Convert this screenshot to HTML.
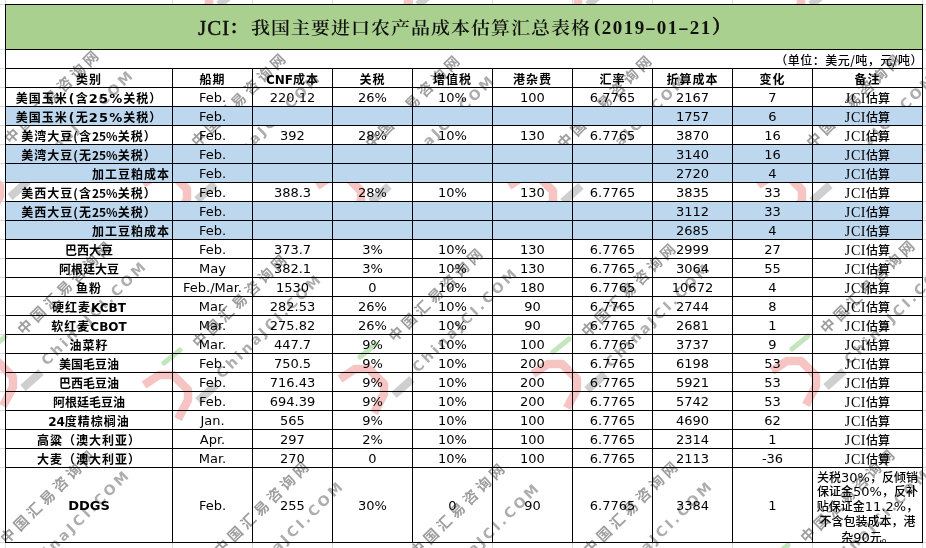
<!DOCTYPE html><html><head><meta charset="utf-8"><title>JCI</title><style>

*{margin:0;padding:0;box-sizing:border-box}
html,body{width:926px;height:548px;overflow:hidden;background:#fff}
body{position:relative;font-family:"DejaVu Sans","Noto Sans CJK SC",sans-serif;font-size:13px;color:#000}
.c{font-family:"Noto Sans CJK SC",sans-serif;font-size:12px;font-weight:500;color:#000}
.a{position:absolute}
.h{position:absolute;height:1px;background:#000}
.v{position:absolute;width:1px;background:#000}
.g{position:absolute;background:#dadada}
.t{position:absolute;height:19px;line-height:19px;white-space:nowrap;text-align:center}
.nb{font-family:"Noto Sans CJK SC",sans-serif;font-size:12px;font-weight:bold;letter-spacing:1px;color:#000}
.n0{letter-spacing:0}
.nr{font-family:"Noto Sans CJK SC",sans-serif;font-size:12px;font-weight:700;color:#000}
.vb{font-family:"DejaVu Sans",sans-serif;font-weight:bold;font-size:13px;letter-spacing:1.2px}
.wm{position:absolute;width:0;height:0;transform:rotate(-44.5deg);transform-origin:0 0}
.wc{position:absolute;left:-6.5px;top:-7px;white-space:nowrap;font-family:"Noto Sans CJK SC",sans-serif;font-size:14.5px;line-height:14.5px;letter-spacing:3.9px;font-weight:bold;color:#9e9e9e}
.we{position:absolute;left:-11.1px;top:31.5px;white-space:nowrap;font-family:"DejaVu Sans",sans-serif;font-weight:bold;font-size:14px;line-height:14px;letter-spacing:3px;color:#adadad}
.lg{position:absolute;width:0;height:0;overflow:visible}
.lb{font-family:"DejaVu Sans",sans-serif;font-weight:bold;letter-spacing:0}
.p{font-family:"DejaVu Sans",sans-serif;font-weight:bold;letter-spacing:0;margin:0 1.5px 0 1px}
.hd{font-family:"Noto Sans CJK SC",sans-serif;font-size:12px;font-weight:bold;letter-spacing:1px;color:#000}
.rm{font-family:"Liberation Serif","Noto Sans CJK SC",serif;font-size:14px;letter-spacing:0.6px;color:#000}
.rm .c{letter-spacing:0}
.title{position:absolute;top:5px;height:44px;line-height:44px;white-space:nowrap;
 font-family:"Liberation Serif","Noto Serif CJK SC",serif;font-weight:bold;font-size:19px;color:#111}
.unit{position:absolute;right:3px;top:50px;height:19px;line-height:19px;font-family:"Noto Sans CJK SC",sans-serif;font-size:12px;font-weight:500;color:#000;white-space:nowrap;letter-spacing:0.5px}

</style></head><body>
<div class="g" style="left:5px;top:0;width:1px;height:4px"></div>
<div class="g" style="left:5px;top:543px;width:1px;height:5px"></div>
<div class="g" style="left:172px;top:0;width:1px;height:4px"></div>
<div class="g" style="left:172px;top:543px;width:1px;height:5px"></div>
<div class="g" style="left:252px;top:0;width:1px;height:4px"></div>
<div class="g" style="left:252px;top:543px;width:1px;height:5px"></div>
<div class="g" style="left:332px;top:0;width:1px;height:4px"></div>
<div class="g" style="left:332px;top:543px;width:1px;height:5px"></div>
<div class="g" style="left:412px;top:0;width:1px;height:4px"></div>
<div class="g" style="left:412px;top:543px;width:1px;height:5px"></div>
<div class="g" style="left:492px;top:0;width:1px;height:4px"></div>
<div class="g" style="left:492px;top:543px;width:1px;height:5px"></div>
<div class="g" style="left:572px;top:0;width:1px;height:4px"></div>
<div class="g" style="left:572px;top:543px;width:1px;height:5px"></div>
<div class="g" style="left:652px;top:0;width:1px;height:4px"></div>
<div class="g" style="left:652px;top:543px;width:1px;height:5px"></div>
<div class="g" style="left:732px;top:0;width:1px;height:4px"></div>
<div class="g" style="left:732px;top:543px;width:1px;height:5px"></div>
<div class="g" style="left:812px;top:0;width:1px;height:4px"></div>
<div class="g" style="left:812px;top:543px;width:1px;height:5px"></div>
<div class="g" style="left:922px;top:0;width:1px;height:4px"></div>
<div class="g" style="left:922px;top:543px;width:1px;height:5px"></div>
<div class="g" style="left:0;top:4px;width:5px;height:1px"></div>
<div class="g" style="left:923px;top:4px;width:3px;height:1px"></div>
<div class="g" style="left:0;top:49px;width:5px;height:1px"></div>
<div class="g" style="left:923px;top:49px;width:3px;height:1px"></div>
<div class="g" style="left:0;top:68px;width:5px;height:1px"></div>
<div class="g" style="left:923px;top:68px;width:3px;height:1px"></div>
<div class="g" style="left:0;top:87px;width:5px;height:1px"></div>
<div class="g" style="left:923px;top:87px;width:3px;height:1px"></div>
<div class="g" style="left:0;top:106px;width:5px;height:1px"></div>
<div class="g" style="left:923px;top:106px;width:3px;height:1px"></div>
<div class="g" style="left:0;top:125px;width:5px;height:1px"></div>
<div class="g" style="left:923px;top:125px;width:3px;height:1px"></div>
<div class="g" style="left:0;top:144px;width:5px;height:1px"></div>
<div class="g" style="left:923px;top:144px;width:3px;height:1px"></div>
<div class="g" style="left:0;top:163px;width:5px;height:1px"></div>
<div class="g" style="left:923px;top:163px;width:3px;height:1px"></div>
<div class="g" style="left:0;top:182px;width:5px;height:1px"></div>
<div class="g" style="left:923px;top:182px;width:3px;height:1px"></div>
<div class="g" style="left:0;top:201px;width:5px;height:1px"></div>
<div class="g" style="left:923px;top:201px;width:3px;height:1px"></div>
<div class="g" style="left:0;top:220px;width:5px;height:1px"></div>
<div class="g" style="left:923px;top:220px;width:3px;height:1px"></div>
<div class="g" style="left:0;top:239px;width:5px;height:1px"></div>
<div class="g" style="left:923px;top:239px;width:3px;height:1px"></div>
<div class="g" style="left:0;top:258px;width:5px;height:1px"></div>
<div class="g" style="left:923px;top:258px;width:3px;height:1px"></div>
<div class="g" style="left:0;top:277px;width:5px;height:1px"></div>
<div class="g" style="left:923px;top:277px;width:3px;height:1px"></div>
<div class="g" style="left:0;top:296px;width:5px;height:1px"></div>
<div class="g" style="left:923px;top:296px;width:3px;height:1px"></div>
<div class="g" style="left:0;top:315px;width:5px;height:1px"></div>
<div class="g" style="left:923px;top:315px;width:3px;height:1px"></div>
<div class="g" style="left:0;top:334px;width:5px;height:1px"></div>
<div class="g" style="left:923px;top:334px;width:3px;height:1px"></div>
<div class="g" style="left:0;top:353px;width:5px;height:1px"></div>
<div class="g" style="left:923px;top:353px;width:3px;height:1px"></div>
<div class="g" style="left:0;top:372px;width:5px;height:1px"></div>
<div class="g" style="left:923px;top:372px;width:3px;height:1px"></div>
<div class="g" style="left:0;top:391px;width:5px;height:1px"></div>
<div class="g" style="left:923px;top:391px;width:3px;height:1px"></div>
<div class="g" style="left:0;top:410px;width:5px;height:1px"></div>
<div class="g" style="left:923px;top:410px;width:3px;height:1px"></div>
<div class="g" style="left:0;top:429px;width:5px;height:1px"></div>
<div class="g" style="left:923px;top:429px;width:3px;height:1px"></div>
<div class="g" style="left:0;top:448px;width:5px;height:1px"></div>
<div class="g" style="left:923px;top:448px;width:3px;height:1px"></div>
<div class="g" style="left:0;top:467px;width:5px;height:1px"></div>
<div class="g" style="left:923px;top:467px;width:3px;height:1px"></div>
<div class="g" style="left:0;top:542px;width:5px;height:1px"></div>
<div class="g" style="left:923px;top:542px;width:3px;height:1px"></div>
<div class="wm" style="left:11px;top:136px"><div class="wc">中国汇易咨询网</div><div class="we">ChinaJCI.COM</div></div>
<div class="wm" style="left:198px;top:138.5px"><div class="wc">中国汇易咨询网</div><div class="we">ChinaJCI.COM</div></div>
<div class="wm" style="left:371.5px;top:140.5px"><div class="wc">中国汇易咨询网</div><div class="we">ChinaJCI.COM</div></div>
<div class="wm" style="left:563.5px;top:140.5px"><div class="wc">中国汇易咨询网</div><div class="we">ChinaJCI.COM</div></div>
<div class="wm" style="left:813px;top:140px"><div class="wc">中国汇易咨询网</div><div class="we">ChinaJCI.COM</div></div>
<div class="wm" style="left:24.3px;top:326.9px"><div class="wc">中国汇易咨询网</div><div class="we">ChinaJCI.COM</div></div>
<div class="wm" style="left:199px;top:339.5px"><div class="wc">中国汇易咨询网</div><div class="we">ChinaJCI.COM</div></div>
<div class="wm" style="left:395px;top:334px"><div class="wc">中国汇易咨询网</div><div class="we">ChinaJCI.COM</div></div>
<div class="wm" style="left:588px;top:329px"><div class="wc">中国汇易咨询网</div><div class="we">ChinaJCI.COM</div></div>
<div class="wm" style="left:827px;top:326px"><div class="wc">中国汇易咨询网</div><div class="we">ChinaJCI.COM</div></div>
<div class="wm" style="left:7.2px;top:535.5px"><div class="wc">中国汇易咨询网</div><div class="we">ChinaJCI.COM</div></div>
<div class="wm" style="left:221px;top:547px"><div class="wc">中国汇易咨询网</div><div class="we">ChinaJCI.COM</div></div>
<div class="wm" style="left:417px;top:549px"><div class="wc">中国汇易咨询网</div><div class="we">ChinaJCI.COM</div></div>
<div class="wm" style="left:590px;top:547px"><div class="wc">中国汇易咨询网</div><div class="we">ChinaJCI.COM</div></div>
<div class="wm" style="left:807px;top:535px"><div class="wc">中国汇易咨询网</div><div class="we">ChinaJCI.COM</div></div>
<svg class="a" style="left:-59px;top:143px" width="100" height="90" viewBox="-40 -50 100 90"><path d="M-25,-12 L-10,-22 L4,-22 L19,-7 L19,3 L9,22" fill="none" stroke="#f7c4c4" stroke-width="8.5" stroke-linejoin="round"/><path d="M-5,-34 L11,-47" fill="none" stroke="#c4e6bd" stroke-width="5" stroke-linecap="round"/><path d="M29,4 L47,-12" fill="none" stroke="#cfcfcf" stroke-width="8"/></svg>
<svg class="a" style="left:128px;top:145.5px" width="100" height="90" viewBox="-40 -50 100 90"><path d="M-25,-12 L-10,-22 L4,-22 L19,-7 L19,3 L9,22" fill="none" stroke="#f7c4c4" stroke-width="8.5" stroke-linejoin="round"/><path d="M-5,-34 L11,-47" fill="none" stroke="#c4e6bd" stroke-width="5" stroke-linecap="round"/><path d="M29,4 L47,-12" fill="none" stroke="#cfcfcf" stroke-width="8"/></svg>
<svg class="a" style="left:301.5px;top:147.5px" width="100" height="90" viewBox="-40 -50 100 90"><path d="M-25,-12 L-10,-22 L4,-22 L19,-7 L19,3 L9,22" fill="none" stroke="#f7c4c4" stroke-width="8.5" stroke-linejoin="round"/><path d="M-5,-34 L11,-47" fill="none" stroke="#c4e6bd" stroke-width="5" stroke-linecap="round"/><path d="M29,4 L47,-12" fill="none" stroke="#cfcfcf" stroke-width="8"/></svg>
<svg class="a" style="left:493.5px;top:147.5px" width="100" height="90" viewBox="-40 -50 100 90"><path d="M-25,-12 L-10,-22 L4,-22 L19,-7 L19,3 L9,22" fill="none" stroke="#f7c4c4" stroke-width="8.5" stroke-linejoin="round"/><path d="M-5,-34 L11,-47" fill="none" stroke="#c4e6bd" stroke-width="5" stroke-linecap="round"/><path d="M29,4 L47,-12" fill="none" stroke="#cfcfcf" stroke-width="8"/></svg>
<svg class="a" style="left:743px;top:147px" width="100" height="90" viewBox="-40 -50 100 90"><path d="M-25,-12 L-10,-22 L4,-22 L19,-7 L19,3 L9,22" fill="none" stroke="#f7c4c4" stroke-width="8.5" stroke-linejoin="round"/><path d="M-5,-34 L11,-47" fill="none" stroke="#c4e6bd" stroke-width="5" stroke-linecap="round"/><path d="M29,4 L47,-12" fill="none" stroke="#cfcfcf" stroke-width="8"/></svg>
<svg class="a" style="left:-45.7px;top:333.9px" width="100" height="90" viewBox="-40 -50 100 90"><path d="M-25,-12 L-10,-22 L4,-22 L19,-7 L19,3 L9,22" fill="none" stroke="#f7c4c4" stroke-width="8.5" stroke-linejoin="round"/><path d="M-5,-34 L11,-47" fill="none" stroke="#c4e6bd" stroke-width="5" stroke-linecap="round"/><path d="M29,4 L47,-12" fill="none" stroke="#cfcfcf" stroke-width="8"/></svg>
<svg class="a" style="left:129px;top:346.5px" width="100" height="90" viewBox="-40 -50 100 90"><path d="M-25,-12 L-10,-22 L4,-22 L19,-7 L19,3 L9,22" fill="none" stroke="#f7c4c4" stroke-width="8.5" stroke-linejoin="round"/><path d="M-5,-34 L11,-47" fill="none" stroke="#c4e6bd" stroke-width="5" stroke-linecap="round"/><path d="M29,4 L47,-12" fill="none" stroke="#cfcfcf" stroke-width="8"/></svg>
<svg class="a" style="left:325px;top:341px" width="100" height="90" viewBox="-40 -50 100 90"><path d="M-25,-12 L-10,-22 L4,-22 L19,-7 L19,3 L9,22" fill="none" stroke="#f7c4c4" stroke-width="8.5" stroke-linejoin="round"/><path d="M-5,-34 L11,-47" fill="none" stroke="#c4e6bd" stroke-width="5" stroke-linecap="round"/><path d="M29,4 L47,-12" fill="none" stroke="#cfcfcf" stroke-width="8"/></svg>
<svg class="a" style="left:518px;top:336px" width="100" height="90" viewBox="-40 -50 100 90"><path d="M-25,-12 L-10,-22 L4,-22 L19,-7 L19,3 L9,22" fill="none" stroke="#f7c4c4" stroke-width="8.5" stroke-linejoin="round"/><path d="M-5,-34 L11,-47" fill="none" stroke="#c4e6bd" stroke-width="5" stroke-linecap="round"/><path d="M29,4 L47,-12" fill="none" stroke="#cfcfcf" stroke-width="8"/></svg>
<svg class="a" style="left:757px;top:333px" width="100" height="90" viewBox="-40 -50 100 90"><path d="M-25,-12 L-10,-22 L4,-22 L19,-7 L19,3 L9,22" fill="none" stroke="#f7c4c4" stroke-width="8.5" stroke-linejoin="round"/><path d="M-5,-34 L11,-47" fill="none" stroke="#c4e6bd" stroke-width="5" stroke-linecap="round"/><path d="M29,4 L47,-12" fill="none" stroke="#cfcfcf" stroke-width="8"/></svg>
<svg class="a" style="left:-62.8px;top:542.5px" width="100" height="90" viewBox="-40 -50 100 90"><path d="M-25,-12 L-10,-22 L4,-22 L19,-7 L19,3 L9,22" fill="none" stroke="#f7c4c4" stroke-width="8.5" stroke-linejoin="round"/><path d="M-5,-34 L11,-47" fill="none" stroke="#c4e6bd" stroke-width="5" stroke-linecap="round"/><path d="M29,4 L47,-12" fill="none" stroke="#cfcfcf" stroke-width="8"/></svg>
<svg class="a" style="left:151px;top:554px" width="100" height="90" viewBox="-40 -50 100 90"><path d="M-25,-12 L-10,-22 L4,-22 L19,-7 L19,3 L9,22" fill="none" stroke="#f7c4c4" stroke-width="8.5" stroke-linejoin="round"/><path d="M-5,-34 L11,-47" fill="none" stroke="#c4e6bd" stroke-width="5" stroke-linecap="round"/><path d="M29,4 L47,-12" fill="none" stroke="#cfcfcf" stroke-width="8"/></svg>
<svg class="a" style="left:347px;top:556px" width="100" height="90" viewBox="-40 -50 100 90"><path d="M-25,-12 L-10,-22 L4,-22 L19,-7 L19,3 L9,22" fill="none" stroke="#f7c4c4" stroke-width="8.5" stroke-linejoin="round"/><path d="M-5,-34 L11,-47" fill="none" stroke="#c4e6bd" stroke-width="5" stroke-linecap="round"/><path d="M29,4 L47,-12" fill="none" stroke="#cfcfcf" stroke-width="8"/></svg>
<svg class="a" style="left:520px;top:554px" width="100" height="90" viewBox="-40 -50 100 90"><path d="M-25,-12 L-10,-22 L4,-22 L19,-7 L19,3 L9,22" fill="none" stroke="#f7c4c4" stroke-width="8.5" stroke-linejoin="round"/><path d="M-5,-34 L11,-47" fill="none" stroke="#c4e6bd" stroke-width="5" stroke-linecap="round"/><path d="M29,4 L47,-12" fill="none" stroke="#cfcfcf" stroke-width="8"/></svg>
<svg class="a" style="left:737px;top:542px" width="100" height="90" viewBox="-40 -50 100 90"><path d="M-25,-12 L-10,-22 L4,-22 L19,-7 L19,3 L9,22" fill="none" stroke="#f7c4c4" stroke-width="8.5" stroke-linejoin="round"/><path d="M-5,-34 L11,-47" fill="none" stroke="#c4e6bd" stroke-width="5" stroke-linecap="round"/><path d="M29,4 L47,-12" fill="none" stroke="#cfcfcf" stroke-width="8"/></svg>
<svg class="a" style="left:150px;top:-49px" width="100" height="90" viewBox="-40 -50 100 90"><path d="M-25,-12 L-10,-22 L4,-22 L19,-7 L19,3 L9,22" fill="none" stroke="#f7c4c4" stroke-width="8.5" stroke-linejoin="round"/><path d="M-5,-34 L11,-47" fill="none" stroke="#c4e6bd" stroke-width="5" stroke-linecap="round"/><path d="M29,4 L47,-12" fill="none" stroke="#cfcfcf" stroke-width="8"/></svg>
<svg class="a" style="left:349px;top:-49px" width="100" height="90" viewBox="-40 -50 100 90"><path d="M-25,-12 L-10,-22 L4,-22 L19,-7 L19,3 L9,22" fill="none" stroke="#f7c4c4" stroke-width="8.5" stroke-linejoin="round"/><path d="M-5,-34 L11,-47" fill="none" stroke="#c4e6bd" stroke-width="5" stroke-linecap="round"/><path d="M29,4 L47,-12" fill="none" stroke="#cfcfcf" stroke-width="8"/></svg>
<svg class="a" style="left:519px;top:-49px" width="100" height="90" viewBox="-40 -50 100 90"><path d="M-25,-12 L-10,-22 L4,-22 L19,-7 L19,3 L9,22" fill="none" stroke="#f7c4c4" stroke-width="8.5" stroke-linejoin="round"/><path d="M-5,-34 L11,-47" fill="none" stroke="#c4e6bd" stroke-width="5" stroke-linecap="round"/><path d="M29,4 L47,-12" fill="none" stroke="#cfcfcf" stroke-width="8"/></svg>
<svg class="a" style="left:742px;top:-49px" width="100" height="90" viewBox="-40 -50 100 90"><path d="M-25,-12 L-10,-22 L4,-22 L19,-7 L19,3 L9,22" fill="none" stroke="#f7c4c4" stroke-width="8.5" stroke-linejoin="round"/><path d="M-5,-34 L11,-47" fill="none" stroke="#c4e6bd" stroke-width="5" stroke-linecap="round"/><path d="M29,4 L47,-12" fill="none" stroke="#cfcfcf" stroke-width="8"/></svg>
<div class="a" style="left:5px;top:4px;width:918px;height:46px;background:#A9D08E"></div>
<div class="a" style="left:5px;top:106px;width:918px;height:20px;background:#BDD7EE"></div>
<div class="a" style="left:5px;top:144px;width:918px;height:20px;background:#BDD7EE"></div>
<div class="a" style="left:5px;top:163px;width:918px;height:20px;background:#BDD7EE"></div>
<div class="a" style="left:5px;top:201px;width:918px;height:20px;background:#BDD7EE"></div>
<div class="a" style="left:5px;top:220px;width:918px;height:20px;background:#BDD7EE"></div>
<div class="h" style="left:5px;top:4px;width:918px"></div>
<div class="h" style="left:5px;top:49px;width:918px"></div>
<div class="h" style="left:5px;top:68px;width:918px"></div>
<div class="h" style="left:5px;top:87px;width:918px"></div>
<div class="h" style="left:5px;top:106px;width:918px"></div>
<div class="h" style="left:5px;top:125px;width:918px"></div>
<div class="h" style="left:5px;top:144px;width:918px"></div>
<div class="h" style="left:5px;top:163px;width:918px"></div>
<div class="h" style="left:5px;top:182px;width:918px"></div>
<div class="h" style="left:5px;top:201px;width:918px"></div>
<div class="h" style="left:5px;top:220px;width:918px"></div>
<div class="h" style="left:5px;top:239px;width:918px"></div>
<div class="h" style="left:5px;top:258px;width:918px"></div>
<div class="h" style="left:5px;top:277px;width:918px"></div>
<div class="h" style="left:5px;top:296px;width:918px"></div>
<div class="h" style="left:5px;top:315px;width:918px"></div>
<div class="h" style="left:5px;top:334px;width:918px"></div>
<div class="h" style="left:5px;top:353px;width:918px"></div>
<div class="h" style="left:5px;top:372px;width:918px"></div>
<div class="h" style="left:5px;top:391px;width:918px"></div>
<div class="h" style="left:5px;top:410px;width:918px"></div>
<div class="h" style="left:5px;top:429px;width:918px"></div>
<div class="h" style="left:5px;top:448px;width:918px"></div>
<div class="h" style="left:5px;top:467px;width:918px"></div>
<div class="h" style="left:5px;top:542px;width:918px"></div>
<div class="v" style="left:5px;top:4px;height:539px"></div>
<div class="v" style="left:922px;top:4px;height:539px"></div>
<div class="v" style="left:172px;top:68px;height:475px"></div>
<div class="v" style="left:252px;top:68px;height:475px"></div>
<div class="v" style="left:332px;top:68px;height:475px"></div>
<div class="v" style="left:412px;top:68px;height:475px"></div>
<div class="v" style="left:492px;top:68px;height:475px"></div>
<div class="v" style="left:572px;top:68px;height:475px"></div>
<div class="v" style="left:652px;top:68px;height:475px"></div>
<div class="v" style="left:732px;top:68px;height:475px"></div>
<div class="v" style="left:812px;top:68px;height:475px"></div>
<div class="title" style="left:198px;top:6px;font-size:22px;font-weight:normal;-webkit-text-stroke:0.5px #111;letter-spacing:1.2px;transform:scaleX(0.95);transform-origin:0 0">JCI</div>
<div class="title" style="left:229px;top:6px">：</div>
<div class="title" style="left:251px;letter-spacing:1px;top:6px;font-weight:600;transform:scaleY(0.9);transform-origin:0 28px">我国主要进口农产品成本估算汇总表格</div>
<div class="title" style="left:594px;top:4px">(</div>
<div class="title" style="left:601px;top:6px;width:11px;text-align:center">2</div>
<div class="title" style="left:612px;top:6px;width:11px;text-align:center">0</div>
<div class="title" style="left:623px;top:6px;width:11px;text-align:center">1</div>
<div class="title" style="left:634px;top:6px;width:11px;text-align:center">9</div>
<div class="title" style="left:645px;top:6px;width:11px;text-align:center;transform:scaleX(1.7)">-</div>
<div class="title" style="left:656px;top:6px;width:11px;text-align:center">0</div>
<div class="title" style="left:667px;top:6px;width:11px;text-align:center">1</div>
<div class="title" style="left:678px;top:6px;width:11px;text-align:center;transform:scaleX(1.7)">-</div>
<div class="title" style="left:689px;top:6px;width:11px;text-align:center">2</div>
<div class="title" style="left:700px;top:6px;width:11px;text-align:center">1</div>
<div class="title" style="left:712px;top:6px;-webkit-text-stroke:0.5px #111">）</div>
<div class="unit">（单位：美元/吨，元/吨）</div>
<div class="t hd" style="left:6px;width:166px;top:69px">类别</div>
<div class="t hd" style="left:173px;width:79px;top:69px">船期</div>
<div class="t hd" style="left:253px;width:79px;top:69px"><span class="lb">CNF</span>成本</div>
<div class="t hd" style="left:333px;width:79px;top:69px">关税</div>
<div class="t hd" style="left:413px;width:79px;top:69px">增值税</div>
<div class="t hd" style="left:493px;width:79px;top:69px">港杂费</div>
<div class="t hd" style="left:573px;width:79px;top:69px">汇率</div>
<div class="t hd" style="left:653px;width:79px;top:69px">折算成本</div>
<div class="t hd" style="left:733px;width:79px;top:69px">变化</div>
<div class="t hd" style="left:813px;width:109px;top:69px">备注</div>
<div class="t nb" style="left:6px;width:166px;top:88px">美国玉米<span class="p">(</span>含<span class="vb">25%</span>关税）</div>
<div class="t" style="left:173px;width:79px;top:88px">Feb.</div>
<div class="t" style="left:253px;width:79px;top:88px">220.12</div>
<div class="t" style="left:333px;width:79px;top:88px">26%</div>
<div class="t" style="left:413px;width:79px;top:88px">10%</div>
<div class="t" style="left:493px;width:79px;top:88px">100</div>
<div class="t" style="left:573px;width:79px;top:88px">6.7765</div>
<div class="t" style="left:653px;width:79px;top:88px">2167</div>
<div class="t" style="left:733px;width:79px;top:88px">7</div>
<div class="t rm" style="left:813px;width:109px;top:88px">JCI<span class="c">估算</span></div>
<div class="t nb" style="left:6px;width:166px;top:107px">美国玉米<span class="p">(</span>无<span class="vb">25%</span>关税）</div>
<div class="t" style="left:173px;width:79px;top:107px">Feb.</div>
<div class="t" style="left:653px;width:79px;top:107px">1757</div>
<div class="t" style="left:733px;width:79px;top:107px">6</div>
<div class="t rm" style="left:813px;width:109px;top:107px">JCI<span class="c">估算</span></div>
<div class="t nb" style="left:6px;width:166px;top:126px">美湾大豆(含<span class="n0">25%</span>关税）</div>
<div class="t" style="left:173px;width:79px;top:126px">Feb.</div>
<div class="t" style="left:253px;width:79px;top:126px">392</div>
<div class="t" style="left:333px;width:79px;top:126px">28%</div>
<div class="t" style="left:413px;width:79px;top:126px">10%</div>
<div class="t" style="left:493px;width:79px;top:126px">130</div>
<div class="t" style="left:573px;width:79px;top:126px">6.7765</div>
<div class="t" style="left:653px;width:79px;top:126px">3870</div>
<div class="t" style="left:733px;width:79px;top:126px">16</div>
<div class="t rm" style="left:813px;width:109px;top:126px">JCI<span class="c">估算</span></div>
<div class="t nb" style="left:6px;width:166px;top:145px">美湾大豆(无<span class="n0">25%</span>关税）</div>
<div class="t" style="left:173px;width:79px;top:145px">Feb.</div>
<div class="t" style="left:653px;width:79px;top:145px">3140</div>
<div class="t" style="left:733px;width:79px;top:145px">16</div>
<div class="t rm" style="left:813px;width:109px;top:145px">JCI<span class="c">估算</span></div>
<div class="t nb" style="left:6px;width:164px;top:164px;text-align:right">加工豆粕成本</div>
<div class="t" style="left:173px;width:79px;top:164px">Feb.</div>
<div class="t" style="left:653px;width:79px;top:164px">2720</div>
<div class="t" style="left:733px;width:79px;top:164px">4</div>
<div class="t rm" style="left:813px;width:109px;top:164px">JCI<span class="c">估算</span></div>
<div class="t nb" style="left:6px;width:166px;top:183px">美西大豆(含<span class="n0">25%</span>关税）</div>
<div class="t" style="left:173px;width:79px;top:183px">Feb.</div>
<div class="t" style="left:253px;width:79px;top:183px">388.3</div>
<div class="t" style="left:333px;width:79px;top:183px">28%</div>
<div class="t" style="left:413px;width:79px;top:183px">10%</div>
<div class="t" style="left:493px;width:79px;top:183px">130</div>
<div class="t" style="left:573px;width:79px;top:183px">6.7765</div>
<div class="t" style="left:653px;width:79px;top:183px">3835</div>
<div class="t" style="left:733px;width:79px;top:183px">33</div>
<div class="t rm" style="left:813px;width:109px;top:183px">JCI<span class="c">估算</span></div>
<div class="t nb" style="left:6px;width:166px;top:202px">美西大豆(无<span class="n0">25%</span>关税）</div>
<div class="t" style="left:173px;width:79px;top:202px">Feb.</div>
<div class="t" style="left:653px;width:79px;top:202px">3112</div>
<div class="t" style="left:733px;width:79px;top:202px">33</div>
<div class="t rm" style="left:813px;width:109px;top:202px">JCI<span class="c">估算</span></div>
<div class="t nb" style="left:6px;width:164px;top:221px;text-align:right">加工豆粕成本</div>
<div class="t" style="left:173px;width:79px;top:221px">Feb.</div>
<div class="t" style="left:653px;width:79px;top:221px">2685</div>
<div class="t" style="left:733px;width:79px;top:221px">4</div>
<div class="t rm" style="left:813px;width:109px;top:221px">JCI<span class="c">估算</span></div>
<div class="t nr" style="left:6px;width:166px;top:240px">巴西大豆</div>
<div class="t" style="left:173px;width:79px;top:240px">Feb.</div>
<div class="t" style="left:253px;width:79px;top:240px">373.7</div>
<div class="t" style="left:333px;width:79px;top:240px">3%</div>
<div class="t" style="left:413px;width:79px;top:240px">10%</div>
<div class="t" style="left:493px;width:79px;top:240px">130</div>
<div class="t" style="left:573px;width:79px;top:240px">6.7765</div>
<div class="t" style="left:653px;width:79px;top:240px">2999</div>
<div class="t" style="left:733px;width:79px;top:240px">27</div>
<div class="t rm" style="left:813px;width:109px;top:240px">JCI<span class="c">估算</span></div>
<div class="t nr" style="left:6px;width:166px;top:259px">阿根廷大豆</div>
<div class="t" style="left:173px;width:79px;top:259px">May</div>
<div class="t" style="left:253px;width:79px;top:259px">382.1</div>
<div class="t" style="left:333px;width:79px;top:259px">3%</div>
<div class="t" style="left:413px;width:79px;top:259px">10%</div>
<div class="t" style="left:493px;width:79px;top:259px">130</div>
<div class="t" style="left:573px;width:79px;top:259px">6.7765</div>
<div class="t" style="left:653px;width:79px;top:259px">3064</div>
<div class="t" style="left:733px;width:79px;top:259px">55</div>
<div class="t rm" style="left:813px;width:109px;top:259px">JCI<span class="c">估算</span></div>
<div class="t nb" style="left:6px;width:166px;top:278px">鱼粉</div>
<div class="t" style="left:173px;width:79px;top:278px">Feb./Mar.</div>
<div class="t" style="left:253px;width:79px;top:278px">1530</div>
<div class="t" style="left:333px;width:79px;top:278px">0</div>
<div class="t" style="left:413px;width:79px;top:278px">10%</div>
<div class="t" style="left:493px;width:79px;top:278px">180</div>
<div class="t" style="left:573px;width:79px;top:278px">6.7765</div>
<div class="t" style="left:653px;width:79px;top:278px">10672</div>
<div class="t" style="left:733px;width:79px;top:278px">4</div>
<div class="t rm" style="left:813px;width:109px;top:278px">JCI<span class="c">估算</span></div>
<div class="t nb" style="left:6px;width:166px;top:297px">硬红麦<span class="lb">KCBT</span></div>
<div class="t" style="left:173px;width:79px;top:297px">Mar.</div>
<div class="t" style="left:253px;width:79px;top:297px">282.53</div>
<div class="t" style="left:333px;width:79px;top:297px">26%</div>
<div class="t" style="left:413px;width:79px;top:297px">10%</div>
<div class="t" style="left:493px;width:79px;top:297px">90</div>
<div class="t" style="left:573px;width:79px;top:297px">6.7765</div>
<div class="t" style="left:653px;width:79px;top:297px">2744</div>
<div class="t" style="left:733px;width:79px;top:297px">8</div>
<div class="t rm" style="left:813px;width:109px;top:297px">JCI<span class="c">估算</span></div>
<div class="t nb" style="left:6px;width:166px;top:316px">软红麦<span class="lb">CBOT</span></div>
<div class="t" style="left:173px;width:79px;top:316px">Mar.</div>
<div class="t" style="left:253px;width:79px;top:316px">275.82</div>
<div class="t" style="left:333px;width:79px;top:316px">26%</div>
<div class="t" style="left:413px;width:79px;top:316px">10%</div>
<div class="t" style="left:493px;width:79px;top:316px">90</div>
<div class="t" style="left:573px;width:79px;top:316px">6.7765</div>
<div class="t" style="left:653px;width:79px;top:316px">2681</div>
<div class="t" style="left:733px;width:79px;top:316px">1</div>
<div class="t rm" style="left:813px;width:109px;top:316px">JCI<span class="c">估算</span></div>
<div class="t nb" style="left:6px;width:166px;top:335px">油菜籽</div>
<div class="t" style="left:173px;width:79px;top:335px">Mar.</div>
<div class="t" style="left:253px;width:79px;top:335px">447.7</div>
<div class="t" style="left:333px;width:79px;top:335px">9%</div>
<div class="t" style="left:413px;width:79px;top:335px">10%</div>
<div class="t" style="left:493px;width:79px;top:335px">100</div>
<div class="t" style="left:573px;width:79px;top:335px">6.7765</div>
<div class="t" style="left:653px;width:79px;top:335px">3737</div>
<div class="t" style="left:733px;width:79px;top:335px">9</div>
<div class="t rm" style="left:813px;width:109px;top:335px">JCI<span class="c">估算</span></div>
<div class="t nr" style="left:6px;width:166px;top:354px">美国毛豆油</div>
<div class="t" style="left:173px;width:79px;top:354px">Feb.</div>
<div class="t" style="left:253px;width:79px;top:354px">750.5</div>
<div class="t" style="left:333px;width:79px;top:354px">9%</div>
<div class="t" style="left:413px;width:79px;top:354px">10%</div>
<div class="t" style="left:493px;width:79px;top:354px">200</div>
<div class="t" style="left:573px;width:79px;top:354px">6.7765</div>
<div class="t" style="left:653px;width:79px;top:354px">6198</div>
<div class="t" style="left:733px;width:79px;top:354px">53</div>
<div class="t rm" style="left:813px;width:109px;top:354px">JCI<span class="c">估算</span></div>
<div class="t nr" style="left:6px;width:166px;top:373px">巴西毛豆油</div>
<div class="t" style="left:173px;width:79px;top:373px">Feb.</div>
<div class="t" style="left:253px;width:79px;top:373px">716.43</div>
<div class="t" style="left:333px;width:79px;top:373px">9%</div>
<div class="t" style="left:413px;width:79px;top:373px">10%</div>
<div class="t" style="left:493px;width:79px;top:373px">200</div>
<div class="t" style="left:573px;width:79px;top:373px">6.7765</div>
<div class="t" style="left:653px;width:79px;top:373px">5921</div>
<div class="t" style="left:733px;width:79px;top:373px">53</div>
<div class="t rm" style="left:813px;width:109px;top:373px">JCI<span class="c">估算</span></div>
<div class="t nr" style="left:6px;width:166px;top:392px">阿根廷毛豆油</div>
<div class="t" style="left:173px;width:79px;top:392px">Feb.</div>
<div class="t" style="left:253px;width:79px;top:392px">694.39</div>
<div class="t" style="left:333px;width:79px;top:392px">9%</div>
<div class="t" style="left:413px;width:79px;top:392px">10%</div>
<div class="t" style="left:493px;width:79px;top:392px">200</div>
<div class="t" style="left:573px;width:79px;top:392px">6.7765</div>
<div class="t" style="left:653px;width:79px;top:392px">5742</div>
<div class="t" style="left:733px;width:79px;top:392px">53</div>
<div class="t rm" style="left:813px;width:109px;top:392px">JCI<span class="c">估算</span></div>
<div class="t nb" style="left:6px;width:166px;top:411px"><span class="lb">24</span>度精棕榈油</div>
<div class="t" style="left:173px;width:79px;top:411px">Jan.</div>
<div class="t" style="left:253px;width:79px;top:411px">565</div>
<div class="t" style="left:333px;width:79px;top:411px">9%</div>
<div class="t" style="left:413px;width:79px;top:411px">10%</div>
<div class="t" style="left:493px;width:79px;top:411px">100</div>
<div class="t" style="left:573px;width:79px;top:411px">6.7765</div>
<div class="t" style="left:653px;width:79px;top:411px">4690</div>
<div class="t" style="left:733px;width:79px;top:411px">62</div>
<div class="t rm" style="left:813px;width:109px;top:411px">JCI<span class="c">估算</span></div>
<div class="t nb" style="left:6px;width:166px;top:430px">高粱（澳大利亚）</div>
<div class="t" style="left:173px;width:79px;top:430px">Apr.</div>
<div class="t" style="left:253px;width:79px;top:430px">297</div>
<div class="t" style="left:333px;width:79px;top:430px">2%</div>
<div class="t" style="left:413px;width:79px;top:430px">10%</div>
<div class="t" style="left:493px;width:79px;top:430px">100</div>
<div class="t" style="left:573px;width:79px;top:430px">6.7765</div>
<div class="t" style="left:653px;width:79px;top:430px">2314</div>
<div class="t" style="left:733px;width:79px;top:430px">1</div>
<div class="t rm" style="left:813px;width:109px;top:430px">JCI<span class="c">估算</span></div>
<div class="t nb" style="left:6px;width:166px;top:449px">大麦（澳大利亚）</div>
<div class="t" style="left:173px;width:79px;top:449px">Mar.</div>
<div class="t" style="left:253px;width:79px;top:449px">270</div>
<div class="t" style="left:333px;width:79px;top:449px">0</div>
<div class="t" style="left:413px;width:79px;top:449px">10%</div>
<div class="t" style="left:493px;width:79px;top:449px">100</div>
<div class="t" style="left:573px;width:79px;top:449px">6.7765</div>
<div class="t" style="left:653px;width:79px;top:449px">2113</div>
<div class="t" style="left:733px;width:79px;top:449px">-36</div>
<div class="t rm" style="left:813px;width:109px;top:449px">JCI<span class="c">估算</span></div>
<div class="t" style="left:6px;width:166px;top:468px;height:75px;line-height:75px"><span class="lb">DDGS</span></div>
<div class="t" style="left:173px;width:79px;top:468px;height:75px;line-height:75px">Feb.</div>
<div class="t" style="left:253px;width:79px;top:468px;height:75px;line-height:75px">255</div>
<div class="t" style="left:333px;width:79px;top:468px;height:75px;line-height:75px">30%</div>
<div class="t" style="left:413px;width:79px;top:468px;height:75px;line-height:75px">0</div>
<div class="t" style="left:493px;width:79px;top:468px;height:75px;line-height:75px">90</div>
<div class="t" style="left:573px;width:79px;top:468px;height:75px;line-height:75px">6.7765</div>
<div class="t" style="left:653px;width:79px;top:468px;height:75px;line-height:75px">3384</div>
<div class="t" style="left:733px;width:79px;top:468px;height:75px;line-height:75px">1</div>
<div class="t" style="left:813px;width:109px;top:469px;height:15px;line-height:15px"><span class="c">关税</span>30%<span class="c">，反倾销</span></div>
<div class="t" style="left:813px;width:109px;top:483px;height:15px;line-height:15px"><span class="c">保证金</span>50%<span class="c">，反补</span></div>
<div class="t" style="left:813px;width:109px;top:498px;height:15px;line-height:15px"><span class="c">贴保证金</span>11.2%<span class="c">，</span></div>
<div class="t" style="left:813px;width:109px;top:513px;height:15px;line-height:15px"><span class="c">不含包装成本，港</span></div>
<div class="t" style="left:813px;width:109px;top:529px;height:15px;line-height:15px"><span class="c">杂</span>90<span class="c">元。</span></div>
</body></html>
